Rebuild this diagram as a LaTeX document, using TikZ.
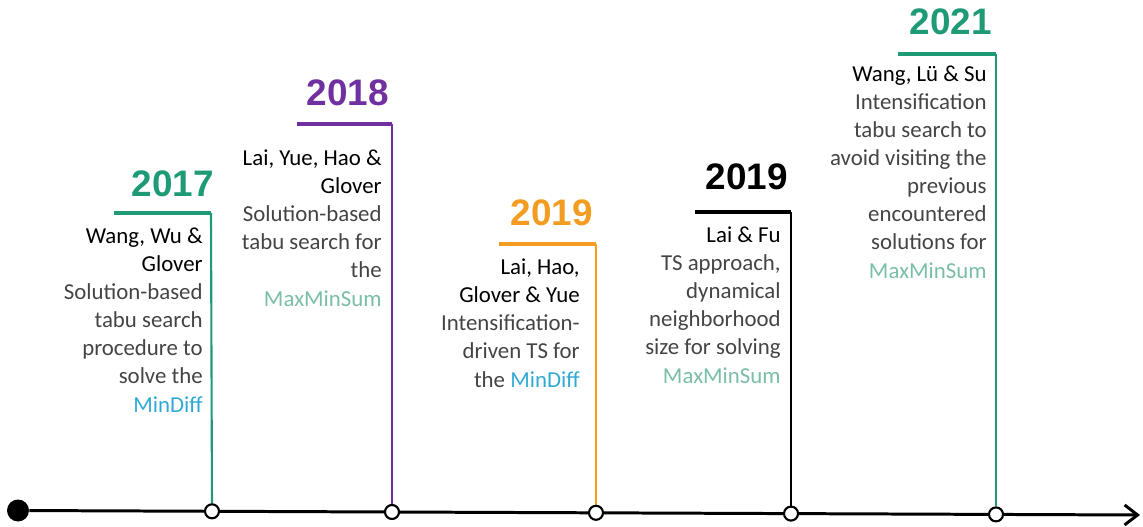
\documentclass[tikz,border=0pt]{standalone}
\usepackage{fontspec}
\setmainfont{Carlito}
\newfontfamily\yearfont{Liberation Sans}
\usetikzlibrary{arrows.meta, positioning, backgrounds}
\usepackage{xcolor}
\definecolor{tlgreen}{RGB}{30,154,118}
\definecolor{tlpurple}{RGB}{112,48,160}
\definecolor{tlorange}{RGB}{242,157,34}
\definecolor{bodygray}{RGB}{68,68,68}
\definecolor{mdblue}{RGB}{48,170,212}
\definecolor{mmsgreen}{RGB}{122,190,166}
\tikzstyle{year} = [font=\yearfont\bfseries\fontsize{21}{25}\selectfont, anchor=base east, inner sep=0pt]
\tikzstyle{entry} = [font=\fontsize{13}{15.94}\selectfont, align=right, anchor=base east, inner sep=0pt, text=bodygray]
\tikzstyle{tick} = [circle, draw=black, line width=1.2pt, fill=white, minimum size=0.28cm, inner sep=0pt]
\tikzstyle{startdot} = [circle, fill=black, minimum size=0.44cm, inner sep=0pt]
\tikzstyle{bar} = [line width=2.8pt]
\tikzstyle{stem} = [line width=1.2pt]
\tikzstyle{axis} = [line width=1.7pt, -{Straight Barb[length=2.6mm, width=4mm, line width=1.7pt]}]
\newcommand{\who}[1]{\textcolor{black}{#1}}
\newcommand{\mindiff}{\textcolor{mdblue}{MinDiff}}
\newcommand{\maxminsum}{\textcolor{mmsgreen}{MaxMinSum}}

\begin{document}
\begin{tikzpicture}[x=0.02cm, y=-0.02cm]
    \useasboundingbox (0,0) rectangle (1143,527);

    % time axis
    \node (start) [startdot] at (18,510.5) {};
    \coordinate (end) at (1140,515);
    \node (t17) [tick] at (212,511.3) {};
    \node (t18) [tick] at (392,512) {};
    \node (t19a) [tick] at (596,512.8) {};
    \node (t19b) [tick] at (791,513.6) {};
    \node (t21) [tick] at (996,514.4) {};

    % years
    \node (y17) [year, text=tlgreen] at (214,196) {2017};
    \node (y18) [year, text=tlpurple] at (389,106) {2018};
    \node (y19a) [year, text=tlorange] at (593,225) {2019};
    \node (y19b) [year, text=black] at (788,190) {2019};
    \node (y21) [year, text=tlgreen] at (992,35) {2021};

    % papers (anchored on the baseline of the last line)
    \node (p17) [entry] at (203,412) {\who{Wang, Wu \&}\\ \who{Glover}\\ Solution-based\\ tabu search\\ procedure to\\ solve the\\ \mindiff};
    \node (p18) [entry] at (382,306) {\who{Lai, Yue, Hao \&}\\ \who{Glover}\\ Solution-based\\ tabu search for\\ the\\ \maxminsum};
    \node (p19a) [entry] at (580,387) {\who{Lai, Hao,}\\ \who{Glover \& Yue}\\ Intensification-\\ driven TS for\\ the \mindiff};
    \node (p19b) [entry] at (781,383) {\who{Lai \& Fu}\\ TS approach,\\ dynamical\\ neighborhood\\ size for solving\\ \maxminsum};
    \node (p21) [entry] at (987,278) {\who{Wang, L\"u \& Su}\\ Intensification\\ tabu search to\\ avoid visiting the\\ previous\\ encountered\\ solutions for\\ \maxminsum};

    \coordinate (b17) at (211,213);
    \coordinate (b18) at (392,124);
    \coordinate (b19a) at (596,244);
    \coordinate (b19b) at (791,212);
    \coordinate (b21) at (996,54);

    \begin{pgfonlayer}{background}
        \draw [axis] (start) -- (end);
        \draw [bar, tlgreen] (b17) -- ++(-97,0);
        \draw [bar, tlpurple] (b18) -- ++(-95,0);
        \draw [bar, tlorange] (b19a) -- ++(-97,0);
        \draw [bar, black] (b19b) -- ++(-96,0);
        \draw [bar, tlgreen] (b21) -- ++(-98,0);
        \draw [stem, tlgreen] (b17) -- (t17);
        \draw [stem, tlpurple] (b18) -- (t18);
        \draw [stem, tlorange] (b19a) -- (t19a);
        \draw [stem, black] (b19b) -- (t19b);
        \draw [stem, tlgreen] (b21) -- (t21);
    \end{pgfonlayer}
\end{tikzpicture}
\end{document}
